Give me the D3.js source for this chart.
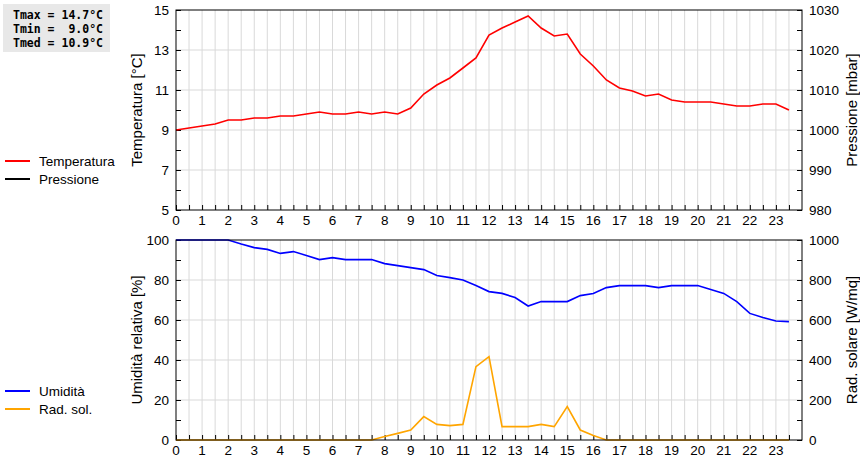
<!DOCTYPE html>
<html>
<head>
<meta charset="utf-8">
<script src="https://cdn.jsdelivr.net/npm/d3@7"></script>
<style>
  body { margin: 0; background: #fff; }
  svg { font-family: "Liberation Sans", Arial, sans-serif; }
  .grid line { stroke: #d9d9d9; stroke-width: 1; }
  .axis path, .axis line { stroke: #000; }
  .axis text { font-size: 13.5px; fill: #000; }
</style>
</head>
<body>
<svg id="chart" width="860" height="460"></svg>
<script>
// half-hour readings
const hours = d3.range(0, 24, 0.5);
const temperatura = [9.0, 9.1, 9.2, 9.3, 9.5, 9.5, 9.6, 9.6, 9.7, 9.7, 9.8, 9.9,
  9.8, 9.8, 9.9, 9.8, 9.9, 9.8, 10.1, 10.8, 11.25, 11.6, 12.1, 12.6,
  13.75, 14.1, 14.4, 14.7, 14.1, 13.7, 13.8, 12.8, 12.2, 11.5, 11.1, 10.95,
  10.7, 10.8, 10.5, 10.4, 10.4, 10.4, 10.3, 10.2, 10.2, 10.3, 10.3, 10.0];
const umidita = [100, 100, 100, 100, 100, 98, 96.2, 95.3, 93.3, 94.2, 92.3, 90.2,
  91.2, 90.2, 90.2, 90.2, 88.2, 87.2, 86.2, 85.2, 82.2, 81.2, 80, 77.2,
  74.2, 73.3, 71.2, 67, 69.2, 69.2, 69.2, 72.2, 73.2, 76.2, 77.2, 77.2,
  77.2, 76.2, 77.2, 77.2, 77.2, 75.3, 73.3, 69.2, 63.3, 61.3, 59.5, 59.2];
const radSol = [0, 0, 0, 0, 0, 0, 0, 0, 0, 0, 0, 0,
  0, 0, 0, 0, 17, 33, 50, 117, 78, 72, 78, 367,
  417, 67, 67, 67, 78, 67, 167, 50, 22, 0, 0, 0,
  0, 0, 0, 0, 0, 0, 0, 0, 0, 0, 0, 0];
const stats = ["Tmax = 14.7°C", "Tmin =  9.0°C", "Tmed = 10.9°C"];
const legendTop = [["Temperatura", "#ff0000"], ["Pressione", "#000000"]];
const legendBottom = [["Umidità", "#0000ff"], ["Rad. sol.", "#ffa500"]];

const svg = d3.select('#chart');
const left = 176, right = 802;

const x = d3.scaleLinear().domain([0, 24]).range([left, right]);

function panel(top, bottom, yL, yR, cfg) {
  const g = svg.append('g');
  // grid
  g.append('g').attr('class', 'grid')
    .selectAll('line').data(d3.range(0.5, 24, 0.5)).enter().append('line')
    .attr('x1', d => x(d)).attr('x2', d => x(d))
    .attr('y1', top).attr('y2', bottom);
  g.append('g').attr('class', 'grid')
    .selectAll('line').data(cfg.gridL).enter().append('line')
    .attr('x1', left).attr('x2', right)
    .attr('y1', d => yL(d)).attr('y2', d => yL(d));

  // axes, ticks inward
  const xa = g.append('g').attr('class', 'axis')
    .attr('transform', `translate(0,${bottom})`)
    .call(d3.axisTop(x).tickValues(d3.range(0, 24, 0.5)).tickSize(5).tickFormat(''));
  xa.select('.domain').remove();
  g.append('g').attr('class', 'axis')
    .selectAll('text').data(d3.range(0, 24)).enter().append('text')
    .attr('x', d => x(d)).attr('y', bottom + 15)
    .attr('text-anchor', 'middle').text(d => d);

  const la = g.append('g').attr('class', 'axis')
    .attr('transform', `translate(${left},0)`)
    .call(d3.axisRight(yL).tickValues(cfg.minorL).tickSize(5).tickFormat(''));
  la.select('.domain').remove();
  g.append('g').attr('class', 'axis')
    .selectAll('text').data(cfg.majorL).enter().append('text')
    .attr('x', left - 7).attr('y', d => yL(d) + 5)
    .attr('text-anchor', 'end').text(d => d);

  const ra = g.append('g').attr('class', 'axis')
    .attr('transform', `translate(${right},0)`)
    .call(d3.axisLeft(yR).tickValues(cfg.minorR).tickSize(5).tickFormat(''));
  ra.select('.domain').remove();
  g.append('g').attr('class', 'axis')
    .selectAll('text').data(cfg.majorR).enter().append('text')
    .attr('x', right + 7).attr('y', d => yR(d) + 5)
    .attr('text-anchor', 'start').text(d => d);

  // series
  cfg.series.forEach(s => {
    const sc = s.axis === 'L' ? yL : yR;
    g.append('path')
      .datum(s.values.map((v, i) => [hours[i], v]))
      .attr('fill', 'none')
      .attr('stroke', s.color)
      .attr('stroke-width', 1.6)
      .attr('d', d3.line().x(d => x(d[0])).y(d => sc(d[1])));
  });

  // frame
  g.append('rect')
    .attr('x', left).attr('y', top)
    .attr('width', right - left).attr('height', bottom - top)
    .attr('fill', 'none').attr('stroke', '#000').attr('stroke-width', 1);

  // axis titles
  const mid = (top + bottom) / 2;
  g.append('text')
    .attr('transform', `translate(142,${mid}) rotate(-90)`)
    .attr('text-anchor', 'middle').style('font-size', '15px')
    .text(cfg.titleL);
  g.append('text')
    .attr('transform', `translate(857,${mid}) rotate(-90)`)
    .attr('text-anchor', 'middle').style('font-size', '15px')
    .text(cfg.titleR);

  // legend
  cfg.legend.forEach((l, i) => {
    const ly = cfg.legendY + i * 18;
    g.append('line').attr('x1', 5).attr('x2', 30).attr('y1', ly).attr('y2', ly)
      .attr('stroke', l[1]).attr('stroke-width', 2);
    g.append('text').attr('x', 39).attr('y', ly + 5)
      .style('font-size', '13.5px').text(l[0]);
  });
}

const yT = d3.scaleLinear().domain([5, 15]).range([210, 10]);
const yP = d3.scaleLinear().domain([980, 1030]).range([210, 10]);
panel(10, 210, yT, yP, {
  gridL: [7, 9, 11, 13],
  minorL: d3.range(5, 16, 1),
  majorL: [5, 7, 9, 11, 13, 15],
  minorR: d3.range(980, 1031, 5),
  majorR: d3.range(980, 1031, 10),
  titleL: 'Temperatura [°C]',
  titleR: 'Pressione [mbar]',
  legend: legendTop,
  legendY: 161,
  series: [{ values: temperatura, color: '#ff0000', axis: 'L' }]
});

const yH = d3.scaleLinear().domain([0, 100]).range([440, 240]);
const yR = d3.scaleLinear().domain([0, 1000]).range([440, 240]);
panel(240, 440, yH, yR, {
  gridL: [20, 40, 60, 80],
  minorL: d3.range(0, 101, 10),
  majorL: d3.range(0, 101, 20),
  minorR: d3.range(0, 1001, 100),
  majorR: d3.range(0, 1001, 200),
  titleL: 'Umidità relativa [%]',
  titleR: 'Rad. solare [W/mq]',
  legend: legendBottom,
  legendY: 391,
  series: [
    { values: umidita, color: '#0000ff', axis: 'L' },
    { values: radSol, color: '#ffa500', axis: 'R' }
  ]
});

// stats box
svg.append('rect').attr('x', 3).attr('y', 4).attr('width', 107).attr('height', 48)
  .attr('fill', '#e8e8e8');
svg.append('g').selectAll('text').data(stats).enter().append('text')
  .attr('x', 13).attr('y', (d, i) => 19 + i * 14)
  .attr('xml:space', 'preserve')
  .style('white-space', 'pre')
  .style('font-family', '"DejaVu Sans Mono", monospace')
  .style('font-weight', 'bold').style('font-size', '11.5px')
  .text(d => d);
</script>
</body>
</html>
